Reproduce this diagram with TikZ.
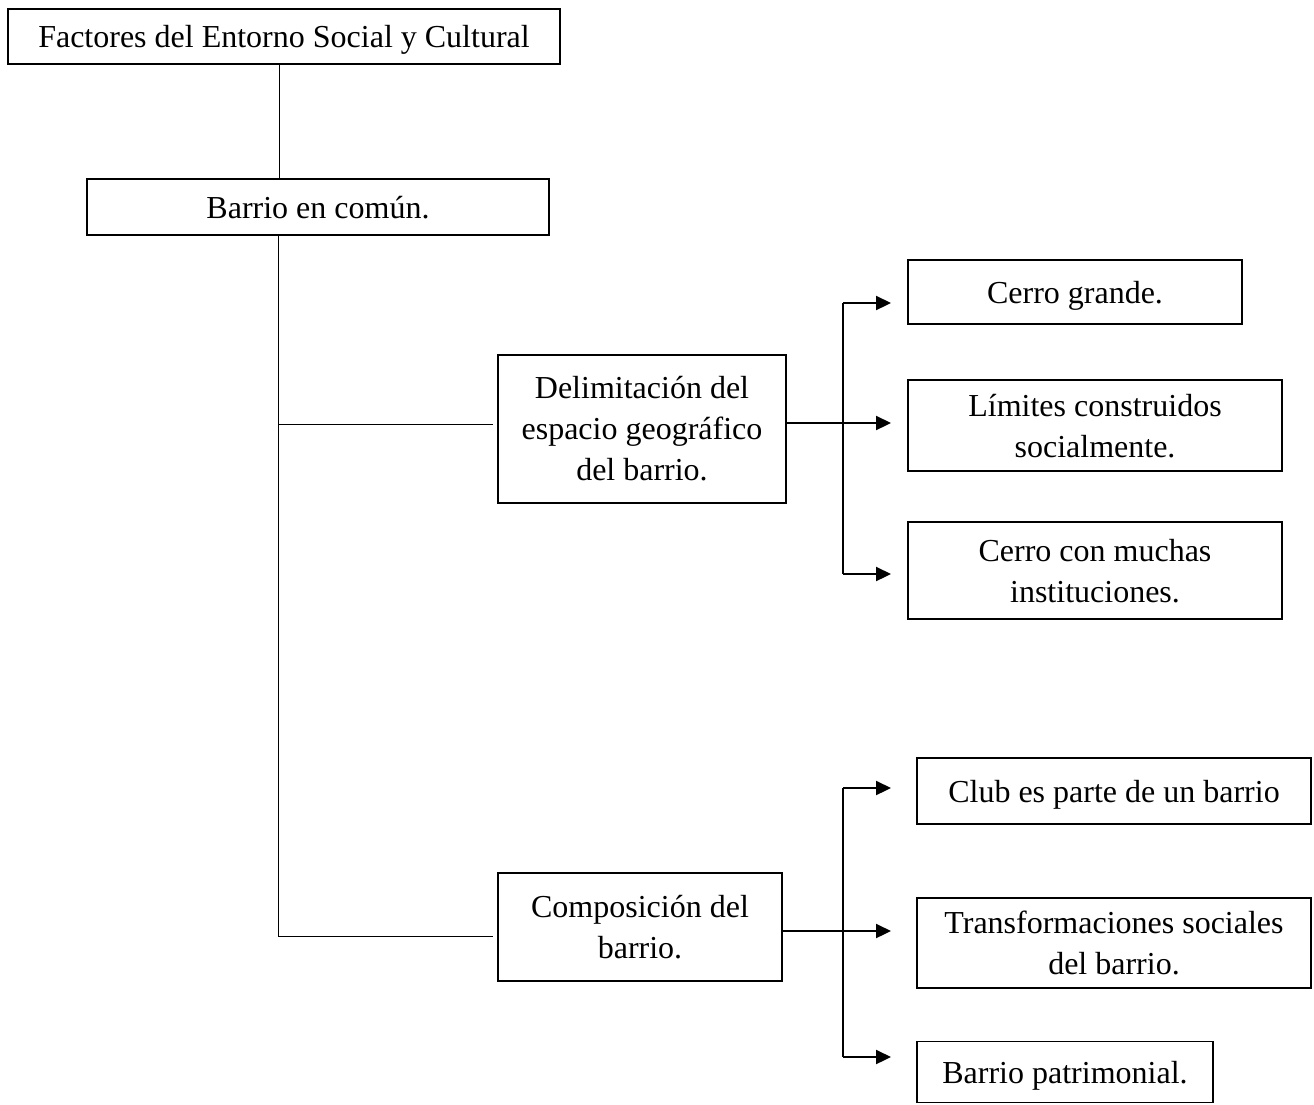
\documentclass[tikz,border=0pt]{standalone}
\usepackage{fontspec}
\setmainfont{Liberation Serif}
\usetikzlibrary{arrows.meta}

\tikzset{
  box/.style={draw, line width=1.8pt, inner sep=0pt, align=center,
    font=\fontsize{32}{41}\selectfont},
  lowtext/.style={text depth=0pt},
  treeline/.style={line width=1pt},
  forkline/.style={line width=1.4pt},
  arrowline/.style={line width=2.2pt, -{Triangle[length=15pt,width=14pt]}}
}

\begin{document}
\begin{tikzpicture}[x=1pt,y=-1pt]
  \useasboundingbox (0,0) rectangle (1314,1104);

  % main hierarchy
  \node[box, lowtext, minimum width=552pt, minimum height=55pt] (top) at (284,36.5)
    {Factores del Entorno Social y Cultural};
  \node[box, lowtext, minimum width=462pt, minimum height=56pt] (barrio) at (318,207)
    {Barrio en común.};
  \node[box, minimum width=288pt, minimum height=148pt] (delim) at (642,429)
    {Delimitación del\\espacio geográfico\\del barrio.};
  \node[box, minimum width=284pt, minimum height=108pt] (comp) at (640,927)
    {Composición del\\barrio.};

  % first group of leaves
  \node[box, lowtext, minimum width=334pt, minimum height=64pt] (cerro) at (1075,292)
    {Cerro grande.};
  \node[box, lowtext, minimum width=374pt, minimum height=91pt] (limites) at (1095,425.5)
    {Límites construidos\\socialmente.};
  \node[box, lowtext, minimum width=374pt, minimum height=97pt] (muchas) at (1095,570.5)
    {Cerro con muchas\\instituciones.};

  % second group of leaves
  \node[box, lowtext, minimum width=394pt, minimum height=66pt] (club) at (1114,791)
    {Club es parte de un barrio};
  \node[box, lowtext, minimum width=394pt, minimum height=90pt] (transf) at (1114,943)
    {Transformaciones sociales\\del barrio.};
  \node[box, lowtext, minimum width=296pt, minimum height=61pt] (patrim) at (1065,1072)
    {Barrio patrimonial.};

  % trunk and branches
  \coordinate (trunk) at (278,0);
  \coordinate (b1) at (278,424);
  \coordinate (b2) at (278,936);
  \coordinate (e1) at (493,424);
  \coordinate (e2) at (493,936);
  \draw[treeline] (top.south -| 279,0) -- (barrio.north -| 279,0);
  \draw[treeline] (barrio.south -| trunk) -- (b2);
  \draw[treeline] (b1) -- (e1);
  \draw[treeline] (b2) -- (e2);

  % fork from the first branch
  \coordinate (f1) at (843,423);
  \coordinate (t11) at (891,303);
  \coordinate (t12) at (891,423);
  \coordinate (t13) at (891,574);
  \draw[forkline] (f1 |- t11) -- (f1 |- t13);
  \draw[arrowline] (delim.east |- t12) -- (t12);
  \draw[arrowline] (f1 |- t11) -- (t11);
  \draw[arrowline] (f1 |- t13) -- (t13);

  % fork from the second branch
  \coordinate (f2) at (843,931);
  \coordinate (t21) at (891,788);
  \coordinate (t22) at (891,931);
  \coordinate (t23) at (891,1057);
  \draw[forkline] (f2 |- t21) -- (f2 |- t23);
  \draw[arrowline] (comp.east |- t22) -- (t22);
  \draw[arrowline] (f2 |- t21) -- (t21);
  \draw[arrowline] (f2 |- t23) -- (t23);
\end{tikzpicture}
\end{document}
